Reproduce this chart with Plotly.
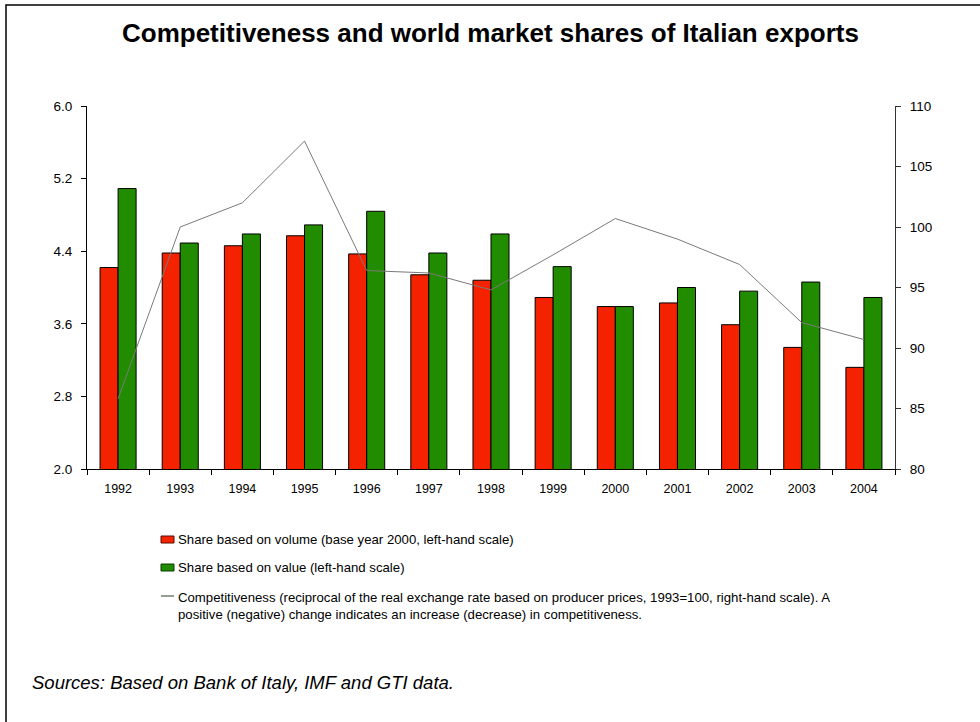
import plotly.graph_objects as go

# Data
years = ["1992", "1993", "1994", "1995", "1996", "1997", "1998",
         "1999", "2000", "2001", "2002", "2003", "2004"]
share_volume = [4.22, 4.38, 4.46, 4.57, 4.37, 4.14, 4.08, 3.89, 3.79, 3.83, 3.59, 3.34, 3.12]
share_value = [5.09, 4.49, 4.59, 4.69, 4.84, 4.38, 4.59, 4.23, 3.79, 4.00, 3.96, 4.06, 3.89]
competitiveness = [85.8, 100.0, 102.0, 107.1, 96.4, 96.2, 94.8, 97.7, 100.7, 99.0, 96.9, 92.1, 90.7]

left_ticks = [2.0, 2.8, 3.6, 4.4, 5.2, 6.0]
right_ticks = [80, 85, 90, 95, 100, 105, 110]

legend_labels = [
    "Share based on volume (base year 2000, left-hand scale)",
    "Share based on value (left-hand scale)",
    "Competitiveness (reciprocal of the real exchange rate based on producer prices, 1993=100, right-hand scale). A<br>"
    "positive (negative) change indicates an increase (decrease) in competitiveness.",
]

RED = "#F52200"
GREEN = "#218C00"
LINE = "#7A7A7A"
FONT = "Liberation Sans, Arial, sans-serif"

W, H = 980, 722
L, R, T, B = 87, 85, 106, 253
PW, PH = W - L - R, H - T - B


def px(x):
    return (x - L) / PW


def py(y):
    return (H - B - y) / PH


fig = go.Figure()
fig.add_trace(go.Bar(x=years, y=share_volume, name=legend_labels[0],
                     marker=dict(color=RED, line=dict(color="black", width=1)),
                     yaxis="y"))
fig.add_trace(go.Bar(x=years, y=share_value, name=legend_labels[1],
                     marker=dict(color=GREEN, line=dict(color="black", width=1)),
                     yaxis="y"))
fig.add_trace(go.Scatter(x=years, y=competitiveness, name=legend_labels[2],
                         mode="lines", line=dict(color=LINE, width=1),
                         yaxis="y2"))

LEG_X = 176
LEG_Y = [539, 567, 596]

shapes = [
    # outer frame
    dict(type="rect", xref="paper", yref="paper",
         x0=px(6), x1=px(990), y0=py(735), y1=py(5),
         line=dict(color="black", width=1.5), fillcolor="rgba(0,0,0,0)", layer="below"),
    # legend swatches
    dict(type="rect", xref="paper", yref="paper",
         x0=px(LEG_X - 15), x1=px(LEG_X - 2), y0=py(LEG_Y[0] + 4), y1=py(LEG_Y[0] - 3),
         line=dict(color="#5a0a00", width=1), fillcolor=RED),
    dict(type="rect", xref="paper", yref="paper",
         x0=px(LEG_X - 15), x1=px(LEG_X - 2), y0=py(LEG_Y[1] + 4), y1=py(LEG_Y[1] - 3),
         line=dict(color="#0d3d00", width=1), fillcolor=GREEN),
    dict(type="line", xref="paper", yref="paper",
         x0=px(LEG_X - 15), x1=px(LEG_X - 2), y0=py(LEG_Y[2]), y1=py(LEG_Y[2]),
         line=dict(color="#2b3f2b", width=1)),
]

LEG_FONT = dict(family=FONT, size=13.2, color="black")

annotations = [
    dict(text="<b>Competitiveness and world market shares of Italian exports</b>",
         xref="paper", yref="paper", x=px(490), y=py(33), xanchor="center", yanchor="middle",
         showarrow=False, font=dict(family=FONT, size=26, color="black")),
    dict(text=legend_labels[0], xref="paper", yref="paper", x=px(LEG_X), y=py(LEG_Y[0]),
         xanchor="left", yanchor="middle", showarrow=False, font=LEG_FONT),
    dict(text=legend_labels[1], xref="paper", yref="paper", x=px(LEG_X), y=py(LEG_Y[1]),
         xanchor="left", yanchor="middle", showarrow=False, font=LEG_FONT),
    dict(text=legend_labels[2], xref="paper", yref="paper", x=px(LEG_X), y=py(LEG_Y[2] - 8),
         xanchor="left", yanchor="top", align="left", showarrow=False, font=LEG_FONT),
    dict(text="<i>Sources: Based on Bank of Italy, IMF and GTI data.</i>",
         xref="paper", yref="paper", x=px(30), y=py(682), xanchor="left", yanchor="middle",
         showarrow=False, font=dict(family=FONT, size=18.5, color="black")),
]

fig.update_layout(
    width=W, height=H,
    margin=dict(l=L, r=R, t=T, b=B, pad=0),
    paper_bgcolor="white", plot_bgcolor="white",
    showlegend=False,
    barmode="group", bargap=0.42, bargroupgap=0,
    font=dict(family=FONT, size=12, color="black"),
    xaxis=dict(type="category", showline=True, linecolor="black", linewidth=1,
               ticks="outside", tickson="boundaries", ticklen=5, tickcolor="black",
               ticklabelstandoff=8,
               showgrid=False, zeroline=False, tickfont=dict(size=12.5)),
    yaxis=dict(range=[2.0, 6.0], tickvals=left_ticks,
               ticktext=[f"{v:.1f}" for v in left_ticks],
               showline=True, linecolor="black", linewidth=1,
               ticks="outside", ticklen=5, tickcolor="black",
               ticklabelstandoff=6,
               showgrid=False, zeroline=False, tickfont=dict(size=13.5)),
    yaxis2=dict(range=[80, 110], tickvals=right_ticks, overlaying="y", side="right",
                showline=True, linecolor="#333333", linewidth=1,
                ticks="outside", ticklen=5, tickcolor="#333333",
                ticklabelstandoff=6,
                showgrid=False, zeroline=False, tickfont=dict(size=13.5)),
    shapes=shapes,
    annotations=annotations,
)

fig.write_html("out.html")
